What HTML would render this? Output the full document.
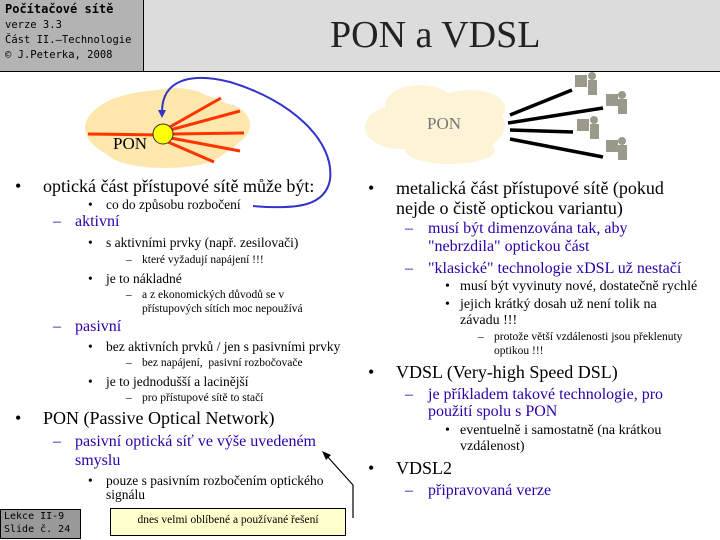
<!DOCTYPE html>
<html><head><meta charset="utf-8"><style>
body{margin:0;width:720px;height:540px;position:relative;overflow:hidden;background:#fff;font-family:"Liberation Serif",serif;}
.t{position:absolute;white-space:nowrap;line-height:1.15;color:#000;}
.n{color:#2b00a8;}
.s18{font-size:18px}.s16{font-size:16px}.s14{font-size:14px}.s13{font-size:13.5px}.s12{font-size:11.5px}
.mono{font-family:"DejaVu Sans Mono","Liberation Mono",monospace;}
</style></head><body>
<div style="position:absolute;left:0;top:0;width:143px;height:71px;background:#b3b3b3;border-right:1px solid #000;"></div>
<div style="position:absolute;left:144px;top:0;width:576px;height:71px;background:#dcdcdc;"></div>
<div style="position:absolute;left:0;top:71px;width:720px;height:1px;background:#000;"></div>
<div class="t mono" style="left:5px;top:3px;font-size:12px;font-weight:bold;">Počítačové sítě</div>
<div class="t mono" style="left:5px;top:19px;font-size:10.5px;">verze 3.3</div>
<div class="t mono" style="left:5px;top:34px;font-size:10.5px;">Část II.–Technologie</div>
<div class="t mono" style="left:5px;top:49px;font-size:10.5px;">© J.Peterka, 2008</div>
<div class="t" style="left:330px;top:14px;font-size:38px;color:#222;">PON a VDSL</div>

<svg style="position:absolute;left:0;top:0" width="720" height="540">
<g fill="#fde7ad">
<ellipse cx="165" cy="128" rx="80" ry="38"/><ellipse cx="130" cy="118" rx="35" ry="22"/><ellipse cx="175" cy="108" rx="40" ry="20"/><ellipse cx="220" cy="125" rx="30" ry="22"/><ellipse cx="165" cy="150" rx="60" ry="18"/>
</g>
<g stroke="#ff3300" stroke-width="3">
<line x1="88" y1="134" x2="160" y2="135"/><line x1="168" y1="128" x2="221" y2="98"/><line x1="170" y1="130" x2="240" y2="111"/><line x1="172" y1="134" x2="244" y2="133"/><line x1="171" y1="138" x2="240" y2="151"/><line x1="168" y1="142" x2="214" y2="162"/>
</g>
<circle cx="163" cy="134" r="10" fill="#ffff00" stroke="#333" stroke-width="1"/>
<path d="M253,206 C300,210 325,205 330,180 C335,140 290,100 230,82 C190,72 162,80 162,112" fill="none" stroke="#3333cc" stroke-width="2"/>
<polygon points="158,110 166,110 162,118" fill="#3333cc"/>
<g fill="#fdf3d6">
<ellipse cx="445" cy="125" rx="60" ry="32"/><ellipse cx="400" cy="127" rx="35" ry="22"/><ellipse cx="420" cy="105" rx="35" ry="20"/><ellipse cx="470" cy="108" rx="35" ry="18"/><ellipse cx="450" cy="150" rx="45" ry="14"/>
</g>
<g stroke="#000" stroke-width="3.5">
<line x1="510" y1="115" x2="572" y2="90"/><line x1="508" y1="123" x2="603" y2="108"/><line x1="510" y1="130" x2="573" y2="132"/><line x1="510" y1="139" x2="603" y2="157"/>
</g>
<g fill="#9a9a8a">
<rect x="575" y="75" width="12" height="12"/><rect x="606" y="94" width="12" height="12"/><rect x="577" y="119" width="12" height="12"/><rect x="606" y="140" width="12" height="12"/>
<circle cx="592" cy="76" r="4"/><circle cx="622" cy="95" r="4"/><circle cx="594" cy="120" r="4"/><circle cx="622" cy="141" r="4"/>
<rect x="588" y="80" width="9" height="15"/><rect x="618" y="99" width="9" height="15"/><rect x="590" y="124" width="9" height="15"/><rect x="618" y="145" width="9" height="15"/>
</g>
<line x1="353" y1="518" x2="353" y2="485" stroke="#000" stroke-width="1.2"/>
<line x1="353" y1="485" x2="326" y2="455" stroke="#000" stroke-width="1.2"/>
<polygon points="322,451 331,455 326,460" fill="#000"/>
</svg>
<div class="t" style="left:113px;top:134px;font-size:17px;">PON</div>
<div class="t" style="left:427px;top:114px;font-size:17px;color:#777;">PON</div>

<div class="t s18" style="left:15px;top:176px;">•</div><div class="t s18" style="left:43px;top:176px;">optická část přístupové sítě může být:</div>
<div class="t s13" style="left:88px;top:197px;">•</div><div class="t s13" style="left:106px;top:197px;">co do způsobu rozbočení</div>
<div class="t s16 n" style="left:53px;top:213px;">–</div><div class="t s16 n" style="left:75px;top:213px;">aktivní</div>
<div class="t s13" style="left:88px;top:235px;">•</div><div class="t s13" style="left:106px;top:235px;">s aktivními prvky (např. zesilovači)</div>
<div class="t s12" style="left:126px;top:254px;">–</div><div class="t s12" style="left:142px;top:254px;">které vyžadují napájení !!!</div>
<div class="t s13" style="left:88px;top:271px;">•</div><div class="t s13" style="left:106px;top:271px;">je to nákladné</div>
<div class="t s12" style="left:126px;top:289px;">–</div><div class="t s12" style="left:142px;top:289px;">a z ekonomických důvodů se v</div>
<div class="t s12" style="left:142px;top:303px;">přístupových sítích moc nepoužívá</div>
<div class="t s16 n" style="left:53px;top:318px;">–</div><div class="t s16 n" style="left:75px;top:318px;">pasivní</div>
<div class="t s13" style="left:88px;top:339px;">•</div><div class="t s13" style="left:106px;top:339px;">bez aktivních prvků / jen s pasivními prvky</div>
<div class="t s12" style="left:126px;top:357px;">–</div><div class="t s12" style="left:142px;top:357px;">bez napájení,&nbsp; pasivní rozbočovače</div>
<div class="t s13" style="left:88px;top:374px;">•</div><div class="t s13" style="left:106px;top:374px;">je to jednodušší a lacinější</div>
<div class="t s12" style="left:126px;top:392px;">–</div><div class="t s12" style="left:142px;top:392px;">pro přístupové sítě to stačí</div>
<div class="t s18" style="left:15px;top:408px;">•</div><div class="t s18" style="left:43px;top:408px;">PON (Passive Optical Network)</div>
<div class="t s16 n" style="left:53px;top:433px;">–</div><div class="t s16 n" style="left:75px;top:433px;">pasivní optická síť ve výše uvedeném</div>
<div class="t s16 n" style="left:75px;top:452px;">smyslu</div>
<div class="t s13" style="left:88px;top:473px;">•</div><div class="t s13" style="left:106px;top:473px;">pouze s pasivním rozbočením optického</div>
<div class="t s13" style="left:106px;top:487px;">signálu</div>

<div class="t s18" style="left:368px;top:178px;">•</div><div class="t s18" style="left:396px;top:178px;">metalická část přístupové sítě (pokud</div>
<div class="t s18" style="left:396px;top:198px;">nejde o čistě optickou variantu)</div>
<div class="t s16 n" style="left:405px;top:220px;">–</div><div class="t s16 n" style="left:428px;top:220px;">musí být dimenzována tak, aby</div>
<div class="t s16 n" style="left:428px;top:238px;">"nebrzdila" optickou část</div>
<div class="t s16 n" style="left:405px;top:260px;">–</div><div class="t s16 n" style="left:428px;top:260px;">"klasické" technologie xDSL už nestačí</div>
<div class="t s14" style="left:445px;top:279px;">•</div><div class="t s14" style="left:460px;top:279px;">musí být vyvinuty nové, dostatečně rychlé</div>
<div class="t s14" style="left:445px;top:297px;">•</div><div class="t s14" style="left:460px;top:297px;">jejich krátký dosah už není tolik na</div>
<div class="t s14" style="left:460px;top:313px;">závadu !!!</div>
<div class="t s12" style="left:478px;top:331px;">–</div><div class="t s12" style="left:494px;top:331px;">protože větší vzdálenosti jsou překlenuty</div>
<div class="t s12" style="left:494px;top:345px;">optikou !!!</div>
<div class="t s18" style="left:368px;top:362px;">•</div><div class="t s18" style="left:396px;top:362px;">VDSL (Very-high Speed DSL)</div>
<div class="t s16 n" style="left:405px;top:386px;">–</div><div class="t s16 n" style="left:428px;top:386px;">je příkladem takové technologie, pro</div>
<div class="t s16 n" style="left:428px;top:403px;">použití spolu s PON</div>
<div class="t s14" style="left:445px;top:423px;">•</div><div class="t s14" style="left:460px;top:423px;">eventuelně i samostatně (na krátkou</div>
<div class="t s14" style="left:460px;top:439px;">vzdálenost)</div>
<div class="t s18" style="left:368px;top:458px;">•</div><div class="t s18" style="left:396px;top:458px;">VDSL2</div>
<div class="t s16 n" style="left:405px;top:482px;">–</div><div class="t s16 n" style="left:428px;top:482px;">připravovaná verze</div>

<div style="position:absolute;left:0;top:509px;width:81px;height:30px;background:#999;border:1px solid #000;box-sizing:border-box;"></div>
<div class="t mono" style="left:4px;top:511px;font-size:10px;">Lekce II-9</div>
<div class="t mono" style="left:4px;top:524px;font-size:10px;">Slide č. 24</div>
<div style="position:absolute;left:110px;top:508px;width:236px;height:28px;background:#ffffcc;border:1px solid #000;box-sizing:border-box;"></div>
<div class="t" style="left:110px;width:236px;text-align:center;top:514px;font-size:11.5px;">dnes velmi oblíbené a používané řešení</div>
</body></html>
